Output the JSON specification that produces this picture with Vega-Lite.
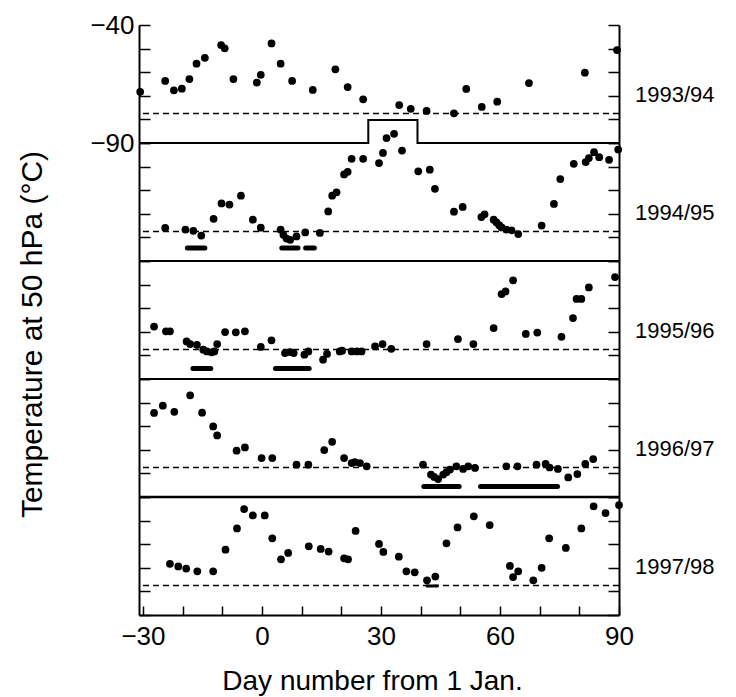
{
  "$schema": "https://vega.github.io/schema/vega-lite/v6.json",
  "padding": {"left": 16, "top": 12, "right": 5, "bottom": 2},
  "background": "white",
  "config": {
    "view": {"stroke": null},
    "font": "Liberation Sans",
    "axis": {"grid": false, "domainColor": "black", "domainWidth": 2, "tickColor": "black", "tickWidth": 1.5, "labelColor": "black", "titleColor": "black", "labelFont": "Liberation Sans", "titleFont": "Liberation Sans", "labelFlush": false, "labelOverlap": false, "titleFontWeight": "normal"},
    "axisX": {"tickSize": -9},
    "axisY": {"tickSize": -11}
  },
  "datasets": {
    "seasons": [{"season": "1993/94"}, {"season": "1994/95"}, {"season": "1995/96"}, {"season": "1996/97"}, {"season": "1997/98"}],
    "step": [{"i": 0, "day": -31, "t": -90}, {"i": 1, "day": 26.8, "t": -90}, {"i": 2, "day": 26.8, "t": -80.3}, {"i": 3, "day": 39.2, "t": -80.3}, {"i": 4, "day": 39.2, "t": -90}, {"i": 5, "day": 90, "t": -90}],
    "bars": [
      {"season": "1994/95", "d1": -18.8, "d2": -14.4, "t": -84.5},
      {"season": "1994/95", "d1": 5.0, "d2": 9.1, "t": -84.5},
      {"season": "1994/95", "d1": 11.0, "d2": 13.2, "t": -84.5},
      {"season": "1995/96", "d1": -17.4, "d2": -12.9, "t": -85.6},
      {"season": "1995/96", "d1": 3.4, "d2": 11.9, "t": -85.6},
      {"season": "1996/97", "d1": 40.8, "d2": 49.7, "t": -85.5},
      {"season": "1996/97", "d1": 55.1, "d2": 74.5, "t": -85.5},
      {"season": "1997/98", "d1": 41.3, "d2": 44.5, "t": -77.7}
    ],
    "pts": [
      {"season": "1993/94", "day": -30.7, "t": -68.3},
      {"season": "1993/94", "day": -24.4, "t": -63.7},
      {"season": "1993/94", "day": -22.2, "t": -67.7},
      {"season": "1993/94", "day": -20.2, "t": -67.0},
      {"season": "1993/94", "day": -18.3, "t": -62.9},
      {"season": "1993/94", "day": -16.5, "t": -56.4},
      {"season": "1993/94", "day": -14.4, "t": -53.9},
      {"season": "1993/94", "day": -10.3, "t": -48.5},
      {"season": "1993/94", "day": -9.4, "t": -49.9},
      {"season": "1993/94", "day": -7.2, "t": -62.9},
      {"season": "1993/94", "day": -1.3, "t": -64.4},
      {"season": "1993/94", "day": -0.3, "t": -61.1},
      {"season": "1993/94", "day": 2.4, "t": -47.8},
      {"season": "1993/94", "day": 4.7, "t": -56.4},
      {"season": "1993/94", "day": 7.6, "t": -63.7},
      {"season": "1993/94", "day": 12.8, "t": -67.5},
      {"season": "1993/94", "day": 18.5, "t": -58.8},
      {"season": "1993/94", "day": 21.6, "t": -66.3},
      {"season": "1993/94", "day": 25.5, "t": -71.5},
      {"season": "1993/94", "day": 34.6, "t": -73.9},
      {"season": "1993/94", "day": 37.5, "t": -75.5},
      {"season": "1993/94", "day": 41.5, "t": -76.4},
      {"season": "1993/94", "day": 48.4, "t": -77.4},
      {"season": "1993/94", "day": 51.5, "t": -67.1},
      {"season": "1993/94", "day": 55.4, "t": -74.7},
      {"season": "1993/94", "day": 59.3, "t": -72.5},
      {"season": "1993/94", "day": 67.3, "t": -64.6},
      {"season": "1993/94", "day": 81.4, "t": -60.2},
      {"season": "1993/94", "day": 89.5, "t": -50.6},

      {"season": "1994/95", "day": -24.4, "t": -76.0},
      {"season": "1994/95", "day": -19.3, "t": -76.7},
      {"season": "1994/95", "day": -17.3, "t": -77.2},
      {"season": "1994/95", "day": -15.3, "t": -79.2},
      {"season": "1994/95", "day": -12.2, "t": -72.1},
      {"season": "1994/95", "day": -10.2, "t": -65.6},
      {"season": "1994/95", "day": -8.2, "t": -66.1},
      {"season": "1994/95", "day": -5.3, "t": -62.3},
      {"season": "1994/95", "day": -2.3, "t": -72.5},
      {"season": "1994/95", "day": -0.3, "t": -75.9},
      {"season": "1994/95", "day": 4.7, "t": -76.7},
      {"season": "1994/95", "day": 5.4, "t": -78.9},
      {"season": "1994/95", "day": 6.2, "t": -80.5},
      {"season": "1994/95", "day": 7.1, "t": -81.0},
      {"season": "1994/95", "day": 8.7, "t": -79.6},
      {"season": "1994/95", "day": 10.9, "t": -77.9},
      {"season": "1994/95", "day": 14.6, "t": -78.1},
      {"season": "1994/95", "day": 16.7, "t": -69.0},
      {"season": "1994/95", "day": 17.7, "t": -62.3},
      {"season": "1994/95", "day": 18.8, "t": -60.9},
      {"season": "1994/95", "day": 20.7, "t": -53.3},
      {"season": "1994/95", "day": 21.6, "t": -52.2},
      {"season": "1994/95", "day": 22.6, "t": -46.7},
      {"season": "1994/95", "day": 25.5, "t": -46.7},
      {"season": "1994/95", "day": 29.5, "t": -48.5},
      {"season": "1994/95", "day": 30.5, "t": -44.2},
      {"season": "1994/95", "day": 31.4, "t": -37.9},
      {"season": "1994/95", "day": 33.3, "t": -36.1},
      {"season": "1994/95", "day": 35.3, "t": -43.2},
      {"season": "1994/95", "day": 39.4, "t": -52.0},
      {"season": "1994/95", "day": 42.3, "t": -51.3},
      {"season": "1994/95", "day": 43.6, "t": -59.4},
      {"season": "1994/95", "day": 48.4, "t": -69.1},
      {"season": "1994/95", "day": 50.6, "t": -67.1},
      {"season": "1994/95", "day": 55.3, "t": -71.4},
      {"season": "1994/95", "day": 56.1, "t": -70.2},
      {"season": "1994/95", "day": 58.4, "t": -72.5},
      {"season": "1994/95", "day": 59.1, "t": -73.6},
      {"season": "1994/95", "day": 59.8, "t": -74.8},
      {"season": "1994/95", "day": 60.4, "t": -75.8},
      {"season": "1994/95", "day": 61.6, "t": -76.7},
      {"season": "1994/95", "day": 62.9, "t": -77.0},
      {"season": "1994/95", "day": 64.6, "t": -78.6},
      {"season": "1994/95", "day": 70.5, "t": -75.0},
      {"season": "1994/95", "day": 73.6, "t": -65.8},
      {"season": "1994/95", "day": 75.2, "t": -55.3},
      {"season": "1994/95", "day": 78.6, "t": -48.8},
      {"season": "1994/95", "day": 81.6, "t": -48.1},
      {"season": "1994/95", "day": 82.4, "t": -46.4},
      {"season": "1994/95", "day": 83.7, "t": -43.9},
      {"season": "1994/95", "day": 85.0, "t": -46.0},
      {"season": "1994/95", "day": 87.5, "t": -47.1},
      {"season": "1994/95", "day": 89.8, "t": -42.8},

      {"season": "1995/96", "day": -27.2, "t": -67.8},
      {"season": "1995/96", "day": -24.2, "t": -69.8},
      {"season": "1995/96", "day": -23.2, "t": -69.8},
      {"season": "1995/96", "day": -19.0, "t": -74.1},
      {"season": "1995/96", "day": -18.1, "t": -75.2},
      {"season": "1995/96", "day": -16.4, "t": -75.5},
      {"season": "1995/96", "day": -14.8, "t": -77.6},
      {"season": "1995/96", "day": -13.9, "t": -78.3},
      {"season": "1995/96", "day": -12.7, "t": -78.7},
      {"season": "1995/96", "day": -12.0, "t": -78.3},
      {"season": "1995/96", "day": -11.3, "t": -75.2},
      {"season": "1995/96", "day": -9.3, "t": -70.1},
      {"season": "1995/96", "day": -6.6, "t": -70.2},
      {"season": "1995/96", "day": -4.3, "t": -69.8},
      {"season": "1995/96", "day": -0.3, "t": -76.4},
      {"season": "1995/96", "day": 2.4, "t": -73.6},
      {"season": "1995/96", "day": 5.8, "t": -79.0},
      {"season": "1995/96", "day": 7.1, "t": -78.6},
      {"season": "1995/96", "day": 8.0, "t": -79.0},
      {"season": "1995/96", "day": 10.7, "t": -79.7},
      {"season": "1995/96", "day": 11.7, "t": -78.3},
      {"season": "1995/96", "day": 15.4, "t": -81.8},
      {"season": "1995/96", "day": 16.4, "t": -79.4},
      {"season": "1995/96", "day": 19.6, "t": -78.3},
      {"season": "1995/96", "day": 20.2, "t": -78.0},
      {"season": "1995/96", "day": 22.6, "t": -78.3},
      {"season": "1995/96", "day": 23.9, "t": -78.3},
      {"season": "1995/96", "day": 25.1, "t": -78.3},
      {"season": "1995/96", "day": 28.5, "t": -76.2},
      {"season": "1995/96", "day": 30.4, "t": -75.2},
      {"season": "1995/96", "day": 32.6, "t": -77.2},
      {"season": "1995/96", "day": 41.5, "t": -75.2},
      {"season": "1995/96", "day": 49.4, "t": -73.1},
      {"season": "1995/96", "day": 53.3, "t": -75.2},
      {"season": "1995/96", "day": 58.4, "t": -68.4},
      {"season": "1995/96", "day": 60.4, "t": -54.0},
      {"season": "1995/96", "day": 61.4, "t": -52.9},
      {"season": "1995/96", "day": 63.3, "t": -48.2},
      {"season": "1995/96", "day": 66.5, "t": -70.9},
      {"season": "1995/96", "day": 69.4, "t": -70.3},
      {"season": "1995/96", "day": 75.5, "t": -72.1},
      {"season": "1995/96", "day": 78.4, "t": -64.2},
      {"season": "1995/96", "day": 79.3, "t": -56.1},
      {"season": "1995/96", "day": 80.5, "t": -56.1},
      {"season": "1995/96", "day": 82.4, "t": -51.2},
      {"season": "1995/96", "day": 89.0, "t": -46.8},

      {"season": "1996/97", "day": -27.2, "t": -54.4},
      {"season": "1996/97", "day": -25.0, "t": -51.3},
      {"season": "1996/97", "day": -22.1, "t": -53.9},
      {"season": "1996/97", "day": -18.1, "t": -46.9},
      {"season": "1996/97", "day": -15.1, "t": -54.3},
      {"season": "1996/97", "day": -12.3, "t": -60.1},
      {"season": "1996/97", "day": -11.3, "t": -63.9},
      {"season": "1996/97", "day": -6.4, "t": -70.4},
      {"season": "1996/97", "day": -4.3, "t": -69.0},
      {"season": "1996/97", "day": -0.1, "t": -73.5},
      {"season": "1996/97", "day": 2.6, "t": -73.5},
      {"season": "1996/97", "day": 8.7, "t": -76.3},
      {"season": "1996/97", "day": 11.7, "t": -76.3},
      {"season": "1996/97", "day": 15.7, "t": -70.1},
      {"season": "1996/97", "day": 17.7, "t": -66.6},
      {"season": "1996/97", "day": 20.7, "t": -73.5},
      {"season": "1996/97", "day": 22.6, "t": -75.6},
      {"season": "1996/97", "day": 23.4, "t": -75.2},
      {"season": "1996/97", "day": 24.7, "t": -75.6},
      {"season": "1996/97", "day": 26.4, "t": -77.0},
      {"season": "1996/97", "day": 40.6, "t": -76.3},
      {"season": "1996/97", "day": 42.6, "t": -80.5},
      {"season": "1996/97", "day": 43.4, "t": -81.5},
      {"season": "1996/97", "day": 44.4, "t": -82.4},
      {"season": "1996/97", "day": 45.7, "t": -80.5},
      {"season": "1996/97", "day": 46.5, "t": -79.5},
      {"season": "1996/97", "day": 47.4, "t": -78.4},
      {"season": "1996/97", "day": 49.0, "t": -77.0},
      {"season": "1996/97", "day": 50.7, "t": -78.1},
      {"season": "1996/97", "day": 52.0, "t": -77.0},
      {"season": "1996/97", "day": 53.7, "t": -77.7},
      {"season": "1996/97", "day": 61.6, "t": -77.0},
      {"season": "1996/97", "day": 64.4, "t": -77.0},
      {"season": "1996/97", "day": 69.2, "t": -76.3},
      {"season": "1996/97", "day": 71.5, "t": -76.0},
      {"season": "1996/97", "day": 72.5, "t": -77.5},
      {"season": "1996/97", "day": 74.6, "t": -78.1},
      {"season": "1996/97", "day": 77.2, "t": -81.7},
      {"season": "1996/97", "day": 79.5, "t": -80.3},
      {"season": "1996/97", "day": 81.5, "t": -76.0},
      {"season": "1996/97", "day": 83.5, "t": -73.9},

      {"season": "1997/98", "day": -23.2, "t": -68.3},
      {"season": "1997/98", "day": -21.1, "t": -69.4},
      {"season": "1997/98", "day": -19.1, "t": -70.3},
      {"season": "1997/98", "day": -16.3, "t": -71.5},
      {"season": "1997/98", "day": -12.3, "t": -71.5},
      {"season": "1997/98", "day": -9.2, "t": -62.3},
      {"season": "1997/98", "day": -6.3, "t": -53.3},
      {"season": "1997/98", "day": -4.5, "t": -45.1},
      {"season": "1997/98", "day": -2.3, "t": -47.8},
      {"season": "1997/98", "day": 0.7, "t": -47.8},
      {"season": "1997/98", "day": 2.6, "t": -57.5},
      {"season": "1997/98", "day": 4.8, "t": -66.4},
      {"season": "1997/98", "day": 6.6, "t": -63.7},
      {"season": "1997/98", "day": 11.8, "t": -60.9},
      {"season": "1997/98", "day": 14.8, "t": -62.0},
      {"season": "1997/98", "day": 16.8, "t": -63.1},
      {"season": "1997/98", "day": 20.7, "t": -66.0},
      {"season": "1997/98", "day": 21.7, "t": -66.4},
      {"season": "1997/98", "day": 23.6, "t": -54.4},
      {"season": "1997/98", "day": 29.5, "t": -59.9},
      {"season": "1997/98", "day": 30.6, "t": -63.3},
      {"season": "1997/98", "day": 34.5, "t": -65.3},
      {"season": "1997/98", "day": 36.4, "t": -71.5},
      {"season": "1997/98", "day": 38.5, "t": -71.9},
      {"season": "1997/98", "day": 41.6, "t": -75.3},
      {"season": "1997/98", "day": 43.7, "t": -73.7},
      {"season": "1997/98", "day": 46.5, "t": -59.6},
      {"season": "1997/98", "day": 49.3, "t": -52.9},
      {"season": "1997/98", "day": 53.4, "t": -48.2},
      {"season": "1997/98", "day": 57.4, "t": -51.9},
      {"season": "1997/98", "day": 62.5, "t": -69.2},
      {"season": "1997/98", "day": 63.3, "t": -73.9},
      {"season": "1997/98", "day": 64.6, "t": -71.5},
      {"season": "1997/98", "day": 68.4, "t": -75.3},
      {"season": "1997/98", "day": 70.5, "t": -70.0},
      {"season": "1997/98", "day": 72.4, "t": -57.5},
      {"season": "1997/98", "day": 76.6, "t": -61.6},
      {"season": "1997/98", "day": 80.5, "t": -53.3},
      {"season": "1997/98", "day": 83.6, "t": -44.0},
      {"season": "1997/98", "day": 86.6, "t": -46.8},
      {"season": "1997/98", "day": 90.0, "t": -43.4}
    ]
  },
  "spacing": 0,
  "bounds": "flush",
  "vconcat": [
    {
      "width": 480, "height": 118,
      "layer": [
        {"data": {"name": "seasons"}, "transform": [{"filter": "datum.season == '1993/94'"}],
         "mark": {"type": "rule", "strokeDash": [6, 4], "strokeWidth": 1.5, "color": "black"},
         "encoding": {"y": {"datum": -77.5, "type": "quantitative", "scale": {"domain": [-90, -40], "nice": false, "zero": false}, "axis": {"orient": "right", "values": [-90, -80, -70, -60, -50, -40], "labels": false, "title": null}}}},
        {"data": {"name": "step"},
         "mark": {"type": "line", "strokeWidth": 2, "color": "black"},
         "encoding": {"x": {"field": "day", "type": "quantitative", "scale": {"domain": [-31, 90], "nice": false, "zero": false}, "axis": null}, "y": {"field": "t", "type": "quantitative", "scale": {"domain": [-90, -40], "nice": false, "zero": false}, "axis": null}, "order": {"field": "i", "type": "quantitative"}}},
        {"data": {"name": "pts"}, "transform": [{"filter": "datum.season == '1993/94'"}],
         "mark": {"type": "circle", "size": 60, "color": "black", "opacity": 1},
         "encoding": {"x": {"field": "day", "type": "quantitative", "scale": {"domain": [-31, 90], "nice": false, "zero": false}, "axis": {"orient": "top", "values": [-30, -20, -10, 0, 10, 20, 30, 40, 50, 60, 70, 80, 90], "labels": false, "title": null}}, "y": {"field": "t", "type": "quantitative", "scale": {"domain": [-90, -40], "nice": false, "zero": false}, "axis": {"orient": "left", "values": [-90, -80, -70, -60, -50, -40], "labelExpr": "datum.value == -40 || datum.value == -90 ? datum.label : ''", "labelFontSize": 26, "labelPadding": 16, "title": null}}}},
        {"data": {"name": "seasons"}, "transform": [{"filter": "datum.season == '1993/94'"}],
         "mark": {"type": "text", "align": "left", "baseline": "middle", "dx": 16, "fontSize": 22, "font": "Liberation Sans", "color": "black"},
         "encoding": {"x": {"datum": 90, "type": "quantitative", "scale": {"domain": [-31, 90], "nice": false, "zero": false}, "axis": null}, "y": {"datum": -69.5, "type": "quantitative", "scale": {"domain": [-90, -40], "nice": false, "zero": false}, "axis": null}, "text": {"field": "season"}}}
      ],
      "resolve": {"axis": {"y": "independent"}}
    },
    {
      "width": 480, "height": 118,
      "layer": [
        {"data": {"name": "seasons"}, "transform": [{"filter": "datum.season == '1994/95'"}],
         "mark": {"type": "rule", "strokeDash": [6, 4], "strokeWidth": 1.5, "color": "black"},
         "encoding": {"y": {"datum": -77.5, "type": "quantitative", "scale": {"domain": [-90, -40], "nice": false, "zero": false}, "axis": {"orient": "right", "values": [-90, -80, -70, -60, -50, -40], "labels": false, "title": null}}}},
        {"data": {"name": "seasons"}, "transform": [{"filter": "datum.season == '1994/95'"}],
         "mark": {"type": "rule", "strokeWidth": 2, "color": "black"},
         "encoding": {"y": {"datum": -90, "type": "quantitative", "scale": {"domain": [-90, -40], "nice": false, "zero": false}, "axis": null}}},
        {"data": {"name": "bars"}, "transform": [{"filter": "datum.season == '1994/95'"}],
         "mark": {"type": "rule", "strokeWidth": 5, "strokeCap": "round", "color": "black"},
         "encoding": {"x": {"field": "d1", "type": "quantitative", "scale": {"domain": [-31, 90], "nice": false, "zero": false}, "axis": null}, "x2": {"field": "d2"}, "y": {"field": "t", "type": "quantitative", "scale": {"domain": [-90, -40], "nice": false, "zero": false}, "axis": null}}},
        {"data": {"name": "pts"}, "transform": [{"filter": "datum.season == '1994/95'"}],
         "mark": {"type": "circle", "size": 60, "color": "black", "opacity": 1},
         "encoding": {"x": {"field": "day", "type": "quantitative", "scale": {"domain": [-31, 90], "nice": false, "zero": false}, "axis": null}, "y": {"field": "t", "type": "quantitative", "scale": {"domain": [-90, -40], "nice": false, "zero": false}, "axis": {"orient": "left", "values": [-90, -80, -70, -60, -50, -40], "labels": false, "title": null}}}},
        {"data": {"name": "seasons"}, "transform": [{"filter": "datum.season == '1994/95'"}],
         "mark": {"type": "text", "align": "left", "baseline": "middle", "dx": 16, "fontSize": 22, "font": "Liberation Sans", "color": "black"},
         "encoding": {"x": {"datum": 90, "type": "quantitative", "scale": {"domain": [-31, 90], "nice": false, "zero": false}, "axis": null}, "y": {"datum": -69.5, "type": "quantitative", "scale": {"domain": [-90, -40], "nice": false, "zero": false}, "axis": null}, "text": {"field": "season"}}}
      ],
      "resolve": {"axis": {"y": "independent"}}
    },
    {
      "width": 480, "height": 118,
      "layer": [
        {"data": {"name": "seasons"}, "transform": [{"filter": "datum.season == '1995/96'"}],
         "mark": {"type": "rule", "strokeDash": [6, 4], "strokeWidth": 1.5, "color": "black"},
         "encoding": {"y": {"datum": -77.5, "type": "quantitative", "scale": {"domain": [-90, -40], "nice": false, "zero": false}, "axis": {"orient": "right", "values": [-90, -80, -70, -60, -50, -40], "labels": false, "title": null}}}},
        {"data": {"name": "seasons"}, "transform": [{"filter": "datum.season == '1995/96'"}],
         "mark": {"type": "rule", "strokeWidth": 2, "color": "black"},
         "encoding": {"y": {"datum": -90, "type": "quantitative", "scale": {"domain": [-90, -40], "nice": false, "zero": false}, "axis": null}}},
        {"data": {"name": "bars"}, "transform": [{"filter": "datum.season == '1995/96'"}],
         "mark": {"type": "rule", "strokeWidth": 5, "strokeCap": "round", "color": "black"},
         "encoding": {"x": {"field": "d1", "type": "quantitative", "scale": {"domain": [-31, 90], "nice": false, "zero": false}, "axis": null}, "x2": {"field": "d2"}, "y": {"field": "t", "type": "quantitative", "scale": {"domain": [-90, -40], "nice": false, "zero": false}, "axis": null}}},
        {"data": {"name": "pts"}, "transform": [{"filter": "datum.season == '1995/96'"}],
         "mark": {"type": "circle", "size": 60, "color": "black", "opacity": 1},
         "encoding": {"x": {"field": "day", "type": "quantitative", "scale": {"domain": [-31, 90], "nice": false, "zero": false}, "axis": null}, "y": {"field": "t", "type": "quantitative", "scale": {"domain": [-90, -40], "nice": false, "zero": false}, "axis": {"orient": "left", "values": [-90, -80, -70, -60, -50, -40], "labels": false, "title": "Temperature at 50 hPa (°C)", "titleFontSize": 30, "titleX": -107, "titleY": 73, "titleBaseline": "middle", "titleAlign": "center"}}}},
        {"data": {"name": "seasons"}, "transform": [{"filter": "datum.season == '1995/96'"}],
         "mark": {"type": "text", "align": "left", "baseline": "middle", "dx": 16, "fontSize": 22, "font": "Liberation Sans", "color": "black"},
         "encoding": {"x": {"datum": 90, "type": "quantitative", "scale": {"domain": [-31, 90], "nice": false, "zero": false}, "axis": null}, "y": {"datum": -69.5, "type": "quantitative", "scale": {"domain": [-90, -40], "nice": false, "zero": false}, "axis": null}, "text": {"field": "season"}}}
      ],
      "resolve": {"axis": {"y": "independent"}}
    },
    {
      "width": 480, "height": 118,
      "layer": [
        {"data": {"name": "seasons"}, "transform": [{"filter": "datum.season == '1996/97'"}],
         "mark": {"type": "rule", "strokeDash": [6, 4], "strokeWidth": 1.5, "color": "black"},
         "encoding": {"y": {"datum": -77.5, "type": "quantitative", "scale": {"domain": [-90, -40], "nice": false, "zero": false}, "axis": {"orient": "right", "values": [-90, -80, -70, -60, -50, -40], "labels": false, "title": null}}}},
        {"data": {"name": "seasons"}, "transform": [{"filter": "datum.season == '1996/97'"}],
         "mark": {"type": "rule", "strokeWidth": 2.5, "color": "black"},
         "encoding": {"y": {"datum": -90, "type": "quantitative", "scale": {"domain": [-90, -40], "nice": false, "zero": false}, "axis": null}}},
        {"data": {"name": "bars"}, "transform": [{"filter": "datum.season == '1996/97'"}],
         "mark": {"type": "rule", "strokeWidth": 5, "strokeCap": "round", "color": "black"},
         "encoding": {"x": {"field": "d1", "type": "quantitative", "scale": {"domain": [-31, 90], "nice": false, "zero": false}, "axis": null}, "x2": {"field": "d2"}, "y": {"field": "t", "type": "quantitative", "scale": {"domain": [-90, -40], "nice": false, "zero": false}, "axis": null}}},
        {"data": {"name": "pts"}, "transform": [{"filter": "datum.season == '1996/97'"}],
         "mark": {"type": "circle", "size": 60, "color": "black", "opacity": 1},
         "encoding": {"x": {"field": "day", "type": "quantitative", "scale": {"domain": [-31, 90], "nice": false, "zero": false}, "axis": null}, "y": {"field": "t", "type": "quantitative", "scale": {"domain": [-90, -40], "nice": false, "zero": false}, "axis": {"orient": "left", "values": [-90, -80, -70, -60, -50, -40], "labels": false, "title": null}}}},
        {"data": {"name": "seasons"}, "transform": [{"filter": "datum.season == '1996/97'"}],
         "mark": {"type": "text", "align": "left", "baseline": "middle", "dx": 16, "fontSize": 22, "font": "Liberation Sans", "color": "black"},
         "encoding": {"x": {"datum": 90, "type": "quantitative", "scale": {"domain": [-31, 90], "nice": false, "zero": false}, "axis": null}, "y": {"datum": -69.5, "type": "quantitative", "scale": {"domain": [-90, -40], "nice": false, "zero": false}, "axis": null}, "text": {"field": "season"}}}
      ],
      "resolve": {"axis": {"y": "independent"}}
    },
    {
      "width": 480, "height": 118,
      "layer": [
        {"data": {"name": "seasons"}, "transform": [{"filter": "datum.season == '1997/98'"}],
         "mark": {"type": "rule", "strokeDash": [6, 4], "strokeWidth": 1.5, "color": "black"},
         "encoding": {"y": {"datum": -77.5, "type": "quantitative", "scale": {"domain": [-90, -40], "nice": false, "zero": false}, "axis": {"orient": "right", "values": [-90, -80, -70, -60, -50, -40], "labels": false, "title": null}}}},
        {"data": {"name": "pts"}, "transform": [{"filter": "datum.season == '1997/98'"}],
         "mark": {"type": "circle", "size": 60, "color": "black", "opacity": 1},
         "encoding": {"x": {"field": "day", "type": "quantitative", "scale": {"domain": [-31, 90], "nice": false, "zero": false}, "axis": {"orient": "bottom", "values": [-30, -20, -10, 0, 10, 20, 30, 40, 50, 60, 70, 80, 90], "labelExpr": "datum.value % 30 == 0 ? datum.label : ''", "labelFontSize": 26, "labelPadding": 17, "title": "Day number from 1 Jan.", "titleFontSize": 28, "titleX": 233, "titleY": 52}}, "y": {"field": "t", "type": "quantitative", "scale": {"domain": [-90, -40], "nice": false, "zero": false}, "axis": {"orient": "left", "values": [-90, -80, -70, -60, -50, -40], "labels": false, "title": null}}}},
        {"data": {"name": "bars"}, "transform": [{"filter": "datum.season == '1997/98'"}],
         "mark": {"type": "rule", "strokeWidth": 3, "strokeCap": "butt", "color": "black"},
         "encoding": {"x": {"field": "d1", "type": "quantitative", "scale": {"domain": [-31, 90], "nice": false, "zero": false}, "axis": null}, "x2": {"field": "d2"}, "y": {"field": "t", "type": "quantitative", "scale": {"domain": [-90, -40], "nice": false, "zero": false}, "axis": null}}},
        {"data": {"name": "seasons"}, "transform": [{"filter": "datum.season == '1997/98'"}],
         "mark": {"type": "text", "align": "left", "baseline": "middle", "dx": 16, "fontSize": 22, "font": "Liberation Sans", "color": "black"},
         "encoding": {"x": {"datum": 90, "type": "quantitative", "scale": {"domain": [-31, 90], "nice": false, "zero": false}, "axis": null}, "y": {"datum": -69.5, "type": "quantitative", "scale": {"domain": [-90, -40], "nice": false, "zero": false}, "axis": null}, "text": {"field": "season"}}}
      ],
      "resolve": {"axis": {"y": "independent", "x": "independent"}}
    }
  ]
}
